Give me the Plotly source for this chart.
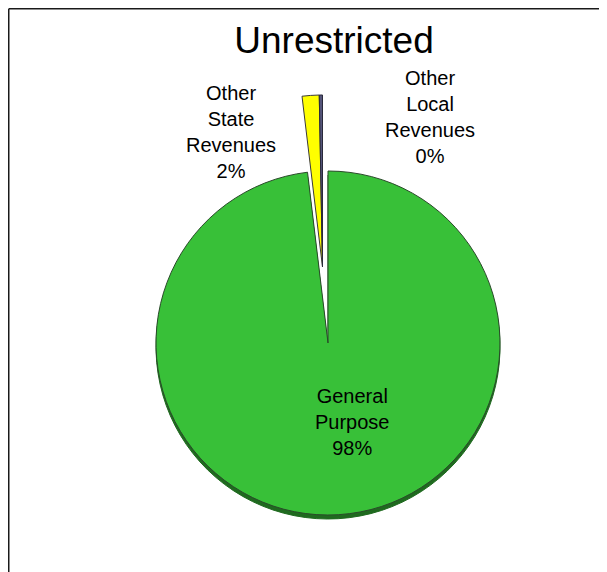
import plotly.graph_objects as go

# ---- data ----
labels = ["General Purpose", "Other State Revenues", "Other Local Revenues"]
values = [98.1, 1.6, 0.3]
title_text = "Unrestricted"

OFF = 8  # page body margin offset
W, H = 607 - OFF, 572 - OFF
total = sum(values)
pcts = [round(v / total * 100) for v in values]

GREEN = "#38c038"
SHADOW = "#1f6a1f"
YELLOW = "#ffff00"
GREY = "#55557a"
TRANSP = "rgba(0,0,0,0)"


def px(x):
    return (x - OFF) / W


def py(y):
    return 1 - (y - OFF) / H


def dom(cx, cy, r):
    return dict(x=[px(cx - r), px(cx + r)], y=[py(cy + r), py(cy - r)])


def pie(cx, cy, r, colors, lines):
    return go.Pie(
        labels=labels, values=values, sort=False, direction="clockwise",
        rotation=0, textinfo="none", showlegend=False,
        domain=dom(cx, cy, r),
        marker=dict(colors=colors, line=dict(color=lines, width=1)),
    )


R = 172
fig = go.Figure()
# shadow under the main slice
fig.add_trace(pie(328, 347, R, [SHADOW, TRANSP, TRANSP], [SHADOW, TRANSP, TRANSP]))
# main (unexploded) slice
fig.add_trace(pie(328, 343, R, [GREEN, TRANSP, TRANSP], ["#2a4a2a", TRANSP, TRANSP]))
# exploded small slices
fig.add_trace(pie(322.5, 267, R, [TRANSP, YELLOW, GREY], [TRANSP, "#3a3a3a", "#2a2a3a"]))

label_pos = [(352, 422), (231, 131.5), (430, 116.75)]
for lab, p, (x, y) in zip(labels, pcts, label_pos):
    txt = "<br>".join(lab.split()) + f"<br>{p}%"
    fig.add_annotation(x=px(x), y=py(y), xref="paper", yref="paper",
                       text=txt, showarrow=False, xanchor="center", yanchor="middle",
                       font=dict(family="Liberation Sans, Arial", size=20, color="#000"))

# chart border (top and left visible)
fig.add_shape(type="line", xref="paper", yref="paper",
              x0=0.75 / W, y0=1 - 0.75 / H, x1=1.0, y1=1 - 0.75 / H,
              line=dict(color="#1a1a1a", width=1.5))
fig.add_shape(type="line", xref="paper", yref="paper",
              x0=0.75 / W, y0=0, x1=0.75 / W, y1=1 - 0.75 / H,
              line=dict(color="#1a1a1a", width=1.5))

fig.update_layout(
    width=W, height=H,
    margin=dict(l=0, r=0, t=0, b=0),
    paper_bgcolor="white", plot_bgcolor="white",
    title=dict(text=title_text, x=px(334), xanchor="center", xref="paper",
               y=py(40), yanchor="middle", yref="container",
               font=dict(family="Liberation Sans, Arial", size=37, color="#000")),
)

fig.write_html("out.html")
